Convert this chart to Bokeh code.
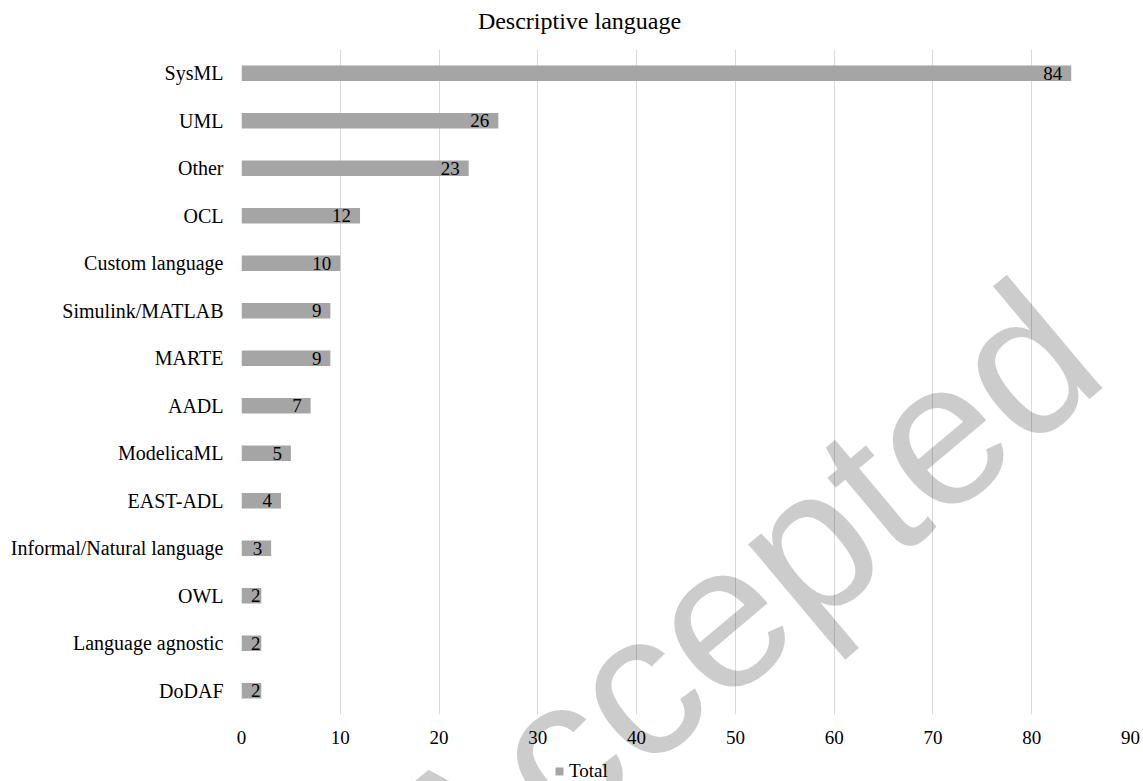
from bokeh.plotting import figure
from bokeh.models import (ColumnDataSource, FactorRange, SingleIntervalTicker,
                          Legend, LegendItem, Label, LabelSet, Range1d)
from bokeh.embed import file_html
from bokeh.resources import INLINE

# ---- data ----
categories = ["SysML", "UML", "Other", "OCL", "Custom language", "Simulink/MATLAB",
              "MARTE", "AADL", "ModelicaML", "EAST-ADL", "Informal/Natural language",
              "OWL", "Language agnostic", "DoDAF"]
totals = [84, 26, 23, 12, 10, 9, 9, 7, 5, 4, 3, 2, 2, 2]
x_ticks_max = 90
title_text = "Descriptive language"
series_name = "Total"
watermark = "Accepted"

SERIF = "Liberation Serif"
BAR_COLOR = "#A5A5A5"
W, H = 1143, 781
LEFT, RIGHT, TOP, BOTTOM = 241, 13, 49, 67
px_per_unit = (W - LEFT - RIGHT) / x_ticks_max

offsets = [-min(9.0, max(0.0, v * px_per_unit - 19.0)) for v in totals]
src = ColumnDataSource(dict(cat=categories, val=totals,
                            lbl=[str(v) for v in totals], off=offsets))

p = figure(width=W, height=H, output_backend="svg", toolbar_location=None,
           y_range=FactorRange(factors=list(reversed(categories))),
           x_range=(0, x_ticks_max),
           min_border_left=LEFT, min_border_right=RIGHT,
           min_border_top=TOP, min_border_bottom=BOTTOM)
p.outline_line_color = None
p.background_fill_color = "white"
p.border_fill_color = "white"

bars = p.hbar(y="cat", right="val", left=0, height=0.33, source=src,
              fill_color=BAR_COLOR, line_color=None)

labels = LabelSet(x="val", y="cat", text="lbl", source=src, x_offset="off",
                  text_align="right", text_baseline="middle",
                  text_font=SERIF, text_font_size="19px", text_color="#000000")
p.add_layout(labels)

# axes
p.xaxis.ticker = SingleIntervalTicker(interval=10)
p.xaxis.axis_line_color = None
p.xaxis.major_tick_line_color = None
p.xaxis.minor_tick_line_color = None
p.xaxis.major_label_standoff = 10
p.xaxis.major_label_text_font = SERIF
p.xaxis.major_label_text_font_size = "19px"
p.xaxis.major_label_text_color = "#000000"

p.yaxis.axis_line_color = None
p.yaxis.major_tick_line_color = None
p.yaxis.minor_tick_line_color = None
p.yaxis.major_label_standoff = 12
p.yaxis.major_label_text_font = SERIF
p.yaxis.major_label_text_font_size = "20px"
p.yaxis.major_label_text_color = "#000000"

p.xgrid.grid_line_color = "#D9D9D9"
p.xgrid.ticker = SingleIntervalTicker(interval=10)
p.ygrid.grid_line_color = None

# ---- overlay figure: title, legend and watermark over the whole canvas ----
o = figure(width=W, height=H, output_backend="svg", toolbar_location=None,
           x_axis_type=None, y_axis_type=None,
           x_range=Range1d(0, W), y_range=Range1d(0, H),
           min_border=0,
           styles={"position": "absolute", "left": "0px", "top": "0px"})
o.outline_line_color = None
o.background_fill_alpha = 0
o.border_fill_alpha = 0

o.add_layout(Label(x=579, y=H - 20, x_units="screen", y_units="screen",
                   text=title_text, text_align="center", text_baseline="middle",
                   text_font=SERIF, text_font_size="24px", text_color="#000000"))

# legend key: a bar renderer with no drawable row, styled like the series
nan = float("nan")
key = o.hbar(y=[nan], right=[nan], left=0, height=1,
             fill_color=BAR_COLOR, line_color=None)
legend = Legend(items=[LegendItem(label=series_name, renderers=[key])],
                location=(554, -1), orientation="horizontal",
                glyph_width=10, glyph_height=10, label_standoff=5,
                padding=0, margin=0, border_line_color=None,
                background_fill_alpha=0,
                label_text_font=SERIF, label_text_font_size="19px",
                label_text_color="#000000")
o.add_layout(legend, "center")

o.add_layout(Label(x=739, y=H - 599, x_units="screen", y_units="screen",
                   text=watermark, angle=40, angle_units="deg",
                   text_align="center", text_baseline="alphabetic",
                   text_font="Liberation Sans", text_font_size="205px",
                   text_color="#000000", text_alpha=0.2))

open("out.html", "w").write(file_html([p, o], INLINE))
